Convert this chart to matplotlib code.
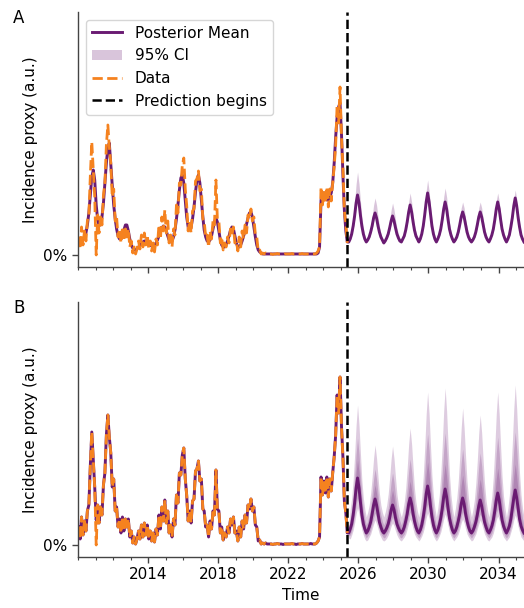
#!/usr/bin/env python3
import numpy as np
import pandas as pd
import matplotlib
matplotlib.use('Agg')
import matplotlib.pyplot as plt
import matplotlib.dates as mdates
from matplotlib.ticker import PercentFormatter

# monthly observations, Jan 2010 .. May 2025 (one row per year)
data_vals = [
    18, 6, 28, 10, 24, 14, 34, 40, 80, 113, 85, 58,
    0, 40, 22, 38, 30, 60, 72, 110, 130, 108, 92, 58,
    66, 34, 38, 18, 26, 12, 28, 14, 26, 18, 26, 8,
    14, 2, 8, 1, 6, 14, 6, 20, 8, 22, 10, 20,
    6, 14, 4, 12, 3, 16, 10, 30, 16, 38, 24, 45,
    22, 34, 12, 20, 8, 26, 20, 50, 42, 72, 70, 90,
    97, 66, 50, 24, 34, 22, 44, 46, 74, 76, 84, 64,
    66, 36, 34, 18, 20, 8, 24, 16, 34, 30, 75, 36,
    34, 12, 18, 5, 12, 8, 18, 12, 26, 20, 28, 12,
    14, 4, 18, 8, 24, 16, 30, 22, 40, 36, 46, 34,
    38, 20, 18, 4, 5, 1, 2, 1, 2, 1, 1, 1,
    1, 0.5, 1, 1, 1.5, 1, 1, 1, 0.5, 1, 1, 1,
    1, 1, 1.5, 1, 1, 0.5, 1, 1, 1, 1.5, 1, 1,
    1, 1, 1, 1.5, 1, 1, 1, 2, 4, 8, 68, 50,
    64, 52, 68, 48, 66, 54, 72, 88, 110, 150, 132, 168,
    118, 86, 44, 32, 12,
]

# posterior mean, model A (fitted period)
mean_a_hist = [
    15, 14, 15, 16, 18, 22, 30, 42, 60, 78, 85, 75,
    50, 35, 30, 30, 38, 52, 72, 92, 107, 112, 90, 70,
    50, 36, 26, 19, 16, 16, 19, 25, 30, 30, 24, 16,
    10, 7, 5, 5, 6, 8, 10, 12, 13, 14, 14, 13,
    12, 10, 9, 9, 10, 12, 15, 19, 23, 27, 29, 28,
    24, 19, 15, 13, 14, 18, 25, 36, 50, 65, 77, 80,
    72, 55, 38, 28, 25, 28, 36, 48, 63, 75, 80, 72,
    55, 38, 25, 18, 14, 13, 15, 19, 26, 33, 37, 33,
    24, 15, 10, 8, 8, 10, 14, 19, 25, 28, 26, 19,
    12, 8, 8, 10, 14, 19, 25, 31, 37, 42, 43, 38,
    28, 18, 10, 5, 3, 2, 1, 1, 1, 1, 1, 1,
    1, 1, 1, 1, 1, 1, 1, 1, 1, 1, 1, 1,
    1, 1, 1, 1, 1, 1, 1, 1, 1, 1, 1, 1,
    1, 1, 1, 1, 1, 1, 1, 1, 2, 8, 55, 62,
    62, 58, 55, 55, 58, 62, 72, 92, 118, 138, 148, 152,
    120, 78, 45, 24, 13,
]

# posterior mean, model B (fitted period) - tracks the data closely
mean_b_hist = [
    18, 6, 28, 10, 24, 14, 34, 40, 80, 113, 85, 58,
    25, 40, 22, 38, 30, 60, 72, 110, 130, 108, 92, 58,
    66, 34, 38, 18, 26, 12, 28, 14, 26, 18, 26, 8,
    14, 2, 8, 1, 6, 14, 6, 20, 8, 22, 10, 20,
    6, 14, 4, 12, 3, 16, 10, 30, 16, 38, 24, 45,
    22, 34, 12, 20, 8, 26, 20, 50, 42, 72, 70, 90,
    97, 66, 50, 24, 34, 22, 44, 46, 74, 76, 84, 64,
    66, 36, 34, 18, 20, 8, 24, 16, 34, 30, 75, 36,
    34, 12, 18, 5, 12, 8, 18, 12, 26, 20, 28, 12,
    14, 4, 18, 8, 24, 16, 30, 22, 40, 36, 46, 34,
    38, 20, 18, 4, 5, 1, 2, 1, 2, 1, 1, 1,
    1, 0.5, 1, 1, 1.5, 1, 1, 1, 0.5, 1, 1, 1,
    1, 1, 1.5, 1, 1, 0.5, 1, 1, 1, 1.5, 1, 1,
    1, 1, 1, 1.5, 1, 1, 1, 2, 4, 8, 68, 50,
    64, 52, 68, 48, 66, 54, 72, 88, 110, 150, 132, 168,
    118, 86, 44, 32, 12,
]

# forecasts, May 2025 .. Jun 2035 (May/Jun 2025, then Jul..Jun seasons)
fc_mean_a = [
    13, 13,
    16, 21, 29, 39, 52, 60, 52, 39, 29, 21, 16, 13,
    15, 18, 23, 29, 37, 42, 37, 29, 23, 18, 15, 12,
    14, 17, 21, 27, 34, 39, 34, 27, 21, 17, 14, 13,
    16, 19, 25, 33, 43, 50, 43, 33, 25, 19, 16, 13,
    16, 21, 29, 40, 53, 62, 53, 40, 29, 21, 16, 13,
    16, 20, 26, 35, 46, 53, 46, 35, 26, 20, 16, 13,
    15, 18, 23, 30, 38, 43, 38, 30, 23, 18, 15, 13,
    15, 18, 23, 30, 38, 43, 38, 30, 23, 18, 15, 13,
    16, 20, 26, 35, 46, 53, 46, 35, 26, 20, 16, 13,
    16, 20, 28, 37, 49, 57, 49, 37, 28, 20, 16, 13,
]
fc_hi_a = [
    14, 15,
    20, 27, 38, 53, 71, 83, 71, 53, 38, 27, 20, 15,
    18, 22, 29, 38, 50, 57, 50, 38, 29, 22, 18, 14,
    17, 21, 27, 35, 45, 52, 45, 35, 27, 21, 17, 15,
    19, 23, 30, 41, 53, 62, 53, 41, 30, 23, 19, 15,
    19, 25, 35, 48, 64, 75, 64, 48, 35, 25, 19, 15,
    19, 24, 32, 44, 58, 67, 58, 44, 32, 24, 19, 15,
    18, 21, 28, 36, 47, 53, 47, 36, 28, 21, 18, 15,
    18, 21, 28, 36, 47, 53, 47, 36, 28, 21, 18, 15,
    19, 23, 30, 41, 54, 62, 54, 41, 30, 23, 19, 15,
    18, 23, 32, 42, 56, 65, 56, 42, 32, 23, 18, 15,
]
fc_lo_a = [
    12, 12,
    15, 19, 26, 35, 47, 54, 47, 35, 26, 19, 15, 12,
    14, 17, 21, 26, 34, 38, 34, 26, 21, 17, 14, 11,
    13, 16, 19, 24, 31, 35, 31, 24, 19, 16, 13, 12,
    15, 18, 23, 30, 40, 46, 40, 30, 23, 18, 15, 12,
    15, 20, 27, 37, 50, 58, 50, 37, 27, 20, 15, 12,
    15, 19, 24, 32, 43, 49, 43, 32, 24, 19, 15, 12,
    14, 17, 21, 27, 35, 39, 35, 27, 21, 17, 14, 12,
    14, 17, 21, 27, 35, 39, 35, 27, 21, 17, 14, 12,
    15, 19, 24, 32, 43, 49, 43, 32, 24, 19, 15, 12,
    15, 19, 26, 34, 46, 53, 46, 34, 26, 19, 15, 12,
]

fc_mean_b = [
    13, 12,
    16, 21, 30, 42, 57, 67, 57, 42, 30, 21, 16, 12,
    14, 18, 23, 31, 40, 46, 40, 31, 23, 18, 14, 12,
    14, 17, 21, 27, 35, 40, 35, 27, 21, 17, 14, 12,
    14, 18, 24, 31, 41, 47, 41, 31, 24, 18, 14, 12,
    15, 20, 28, 38, 51, 59, 51, 38, 28, 20, 15, 12,
    15, 20, 27, 36, 48, 56, 48, 36, 27, 20, 15, 12,
    14, 18, 24, 31, 41, 47, 41, 31, 24, 18, 14, 12,
    14, 18, 23, 30, 39, 45, 39, 30, 23, 18, 14, 12,
    15, 19, 25, 34, 45, 52, 45, 34, 25, 19, 15, 12,
    15, 19, 26, 36, 47, 55, 47, 36, 26, 19, 15, 12,
]
fc_hi95_b = [
    13, 20,
    36, 47, 65, 90, 120, 140, 120, 90, 65, 47, 36, 28,
    33, 40, 52, 68, 87, 100, 87, 68, 52, 40, 33, 28,
    33, 40, 51, 67, 86, 99, 86, 67, 51, 40, 33, 28,
    34, 43, 57, 77, 101, 117, 101, 77, 57, 43, 34, 28,
    37, 49, 69, 97, 131, 153, 131, 97, 69, 49, 37, 28,
    37, 50, 71, 99, 134, 157, 134, 99, 71, 50, 37, 28,
    36, 47, 64, 88, 117, 137, 117, 88, 64, 47, 36, 28,
    35, 45, 62, 84, 112, 130, 112, 84, 62, 45, 35, 28,
    37, 49, 69, 97, 131, 153, 131, 97, 69, 49, 37, 28,
    37, 50, 72, 101, 136, 160, 136, 101, 72, 50, 37, 28,
]
fc_hi75_b = [
    13, 17,
    26, 35, 49, 68, 91, 107, 91, 68, 49, 35, 26, 20,
    24, 30, 38, 51, 66, 76, 66, 51, 38, 30, 24, 20,
    24, 29, 37, 49, 63, 72, 63, 49, 37, 29, 24, 20,
    25, 31, 42, 56, 74, 86, 74, 56, 42, 31, 25, 20,
    26, 35, 50, 70, 95, 111, 95, 70, 50, 35, 26, 20,
    26, 36, 50, 71, 95, 112, 95, 71, 50, 36, 26, 20,
    25, 33, 45, 62, 82, 96, 82, 62, 45, 33, 25, 20,
    25, 32, 44, 60, 79, 92, 79, 60, 44, 32, 25, 20,
    26, 35, 49, 68, 92, 108, 92, 68, 49, 35, 26, 20,
    27, 36, 51, 71, 96, 113, 96, 71, 51, 36, 27, 20,
]
fc_hi50_b = [
    13, 14,
    21, 28, 39, 54, 73, 85, 73, 54, 39, 28, 21, 16,
    19, 23, 31, 40, 52, 60, 52, 40, 31, 23, 19, 16,
    19, 23, 29, 37, 48, 55, 48, 37, 29, 23, 19, 16,
    19, 24, 32, 42, 55, 64, 55, 42, 32, 24, 19, 16,
    21, 27, 38, 53, 71, 83, 71, 53, 38, 27, 21, 16,
    21, 27, 37, 52, 69, 81, 69, 52, 37, 27, 21, 16,
    20, 25, 34, 46, 60, 70, 60, 46, 34, 25, 20, 16,
    20, 25, 33, 44, 57, 66, 57, 44, 33, 25, 20, 16,
    20, 26, 36, 50, 66, 77, 66, 50, 36, 26, 20, 16,
    21, 27, 37, 52, 69, 81, 69, 52, 37, 27, 21, 16,
]
fc_lo50_b = [
    13, 11,
    13, 18, 26, 36, 49, 57, 49, 36, 26, 18, 13, 10,
    12, 15, 20, 26, 34, 39, 34, 26, 20, 15, 12, 10,
    12, 14, 18, 23, 30, 34, 30, 23, 18, 14, 12, 10,
    12, 15, 20, 27, 35, 40, 35, 27, 20, 15, 12, 10,
    13, 17, 23, 32, 43, 50, 43, 32, 23, 17, 13, 10,
    13, 16, 23, 31, 41, 48, 41, 31, 23, 16, 13, 10,
    12, 15, 20, 27, 35, 40, 35, 27, 20, 15, 12, 10,
    12, 15, 19, 25, 33, 38, 33, 25, 19, 15, 12, 10,
    12, 16, 21, 29, 38, 44, 38, 29, 21, 16, 12, 10,
    13, 16, 22, 30, 40, 47, 40, 30, 22, 16, 13, 10,
]
fc_lo75_b = [
    13, 9,
    10, 14, 20, 29, 40, 47, 40, 29, 20, 14, 10, 7,
    9, 11, 15, 21, 27, 32, 27, 21, 15, 11, 9, 7,
    8, 11, 14, 19, 24, 28, 24, 19, 14, 11, 8, 7,
    9, 11, 16, 21, 28, 33, 28, 21, 16, 11, 9, 7,
    9, 13, 18, 26, 35, 41, 35, 26, 18, 13, 9, 7,
    9, 12, 18, 25, 33, 39, 33, 25, 18, 12, 9, 7,
    9, 11, 16, 21, 28, 33, 28, 21, 16, 11, 9, 7,
    9, 11, 15, 20, 27, 31, 27, 20, 15, 11, 9, 7,
    9, 12, 17, 23, 31, 36, 31, 23, 17, 12, 9, 7,
    9, 12, 17, 24, 32, 38, 32, 24, 17, 12, 9, 7,
]
fc_lo95_b = [
    13, 7,
    6, 10, 15, 22, 31, 37, 31, 22, 15, 10, 6, 4,
    5, 8, 11, 16, 21, 25, 21, 16, 11, 8, 5, 4,
    5, 7, 10, 14, 19, 22, 19, 14, 10, 7, 5, 4,
    6, 8, 11, 16, 22, 26, 22, 16, 11, 8, 6, 4,
    6, 9, 13, 19, 27, 32, 27, 19, 13, 9, 6, 4,
    6, 9, 13, 19, 26, 31, 26, 19, 13, 9, 6, 4,
    6, 8, 11, 16, 22, 26, 22, 16, 11, 8, 6, 4,
    5, 8, 11, 16, 21, 25, 21, 16, 11, 8, 5, 4,
    6, 8, 12, 18, 25, 29, 25, 18, 12, 8, 6, 4,
    6, 8, 13, 18, 25, 30, 25, 18, 13, 8, 6, 4,
]

tick_years = [2014, 2018, 2022, 2026, 2030, 2034]
panel_labels = ['A', 'B']

PURPLE = '#6a1b72'
ORANGE = '#f5821f'


def draw_panel(ax, hist_dates, fc_dates, mean_hist, fc_mean, bands, band_alpha, pred_start):
    for i, (lo, hi) in enumerate(bands):
        ax.fill_between(fc_dates, lo, hi, color=PURPLE, alpha=band_alpha, lw=0,
                        label='95% CI' if i == 0 else None)
    dates = hist_dates.append(fc_dates[1:])
    mean = np.concatenate([mean_hist, fc_mean[1:]])
    ax.plot(dates, mean, color=PURPLE, lw=2.1, label='Posterior Mean')
    ax.plot(hist_dates, data_vals, color=ORANGE, lw=2.0, ls='--', label='Data')
    ax.axvline(pred_start, color='black', lw=1.8, ls='--', label='Prediction begins')

    ax.set_ylim(-12, 243)
    ax.set_xlim(pd.Timestamp('2010-01-01'), pd.Timestamp('2035-06-15'))
    ax.set_yticks([0])
    ax.yaxis.set_major_formatter(PercentFormatter(decimals=0))
    ax.set_xticks([pd.Timestamp(f'{y}-01-01') for y in tick_years])
    ax.set_xticklabels([str(y) for y in tick_years])
    ax.xaxis.set_minor_locator(mdates.YearLocator(1))
    ax.set_ylabel('Incidence proxy (a.u.)')
    for s in ['top', 'right']:
        ax.spines[s].set_visible(False)
    for s in ['left', 'bottom']:
        ax.spines[s].set_color('#444444')
        ax.spines[s].set_linewidth(1.0)
    ax.tick_params(which='major', length=4, width=1, color='#444444')
    ax.tick_params(which='minor', length=2.5, width=0.8, color='#444444')


def main():
    plt.rcParams['font.size'] = 11
    plt.rcParams['font.family'] = ['DejaVu Sans']

    hist_dates = pd.date_range('2010-01-01', '2025-05-01', freq='MS') + pd.Timedelta(days=14)
    fc_dates = pd.date_range('2025-05-01', '2035-06-01', freq='MS') + pd.Timedelta(days=14)
    pred_start = pd.Timestamp('2025-05-15')

    fig = plt.figure(figsize=(5.24, 6.08), dpi=100)
    ax_a = fig.add_axes([0.1489, 0.5609, 0.851, 0.4194])
    ax_b = fig.add_axes([0.1489, 0.0839, 0.851, 0.4194])

    draw_panel(ax_a, hist_dates, fc_dates, mean_a_hist, fc_mean_a,
               [(fc_lo_a, fc_hi_a)], 0.25, pred_start)
    draw_panel(ax_b, hist_dates, fc_dates, mean_b_hist, fc_mean_b,
               [(fc_lo95_b, fc_hi95_b), (fc_lo75_b, fc_hi75_b), (fc_lo50_b, fc_hi50_b)],
               0.22, pred_start)

    ax_a.tick_params(axis='x', which='both', labelbottom=False)
    ax_b.set_xlabel('Time')

    # legend order as in the figure
    h, l = ax_a.get_legend_handles_labels()
    order = [l.index(x) for x in ['Posterior Mean', '95% CI', 'Data', 'Prediction begins']]
    ax_a.legend([h[i] for i in order], [l[i] for i in order], loc='upper left')

    fig.text(13 / 524, 1 - 9 / 608, panel_labels[0], fontsize=12, va='top', ha='left')
    fig.text(13 / 524, 1 - 299 / 608, panel_labels[1], fontsize=12, va='top', ha='left')

    fig.savefig('out.png', dpi=100)


if __name__ == "__main__":
    main()
